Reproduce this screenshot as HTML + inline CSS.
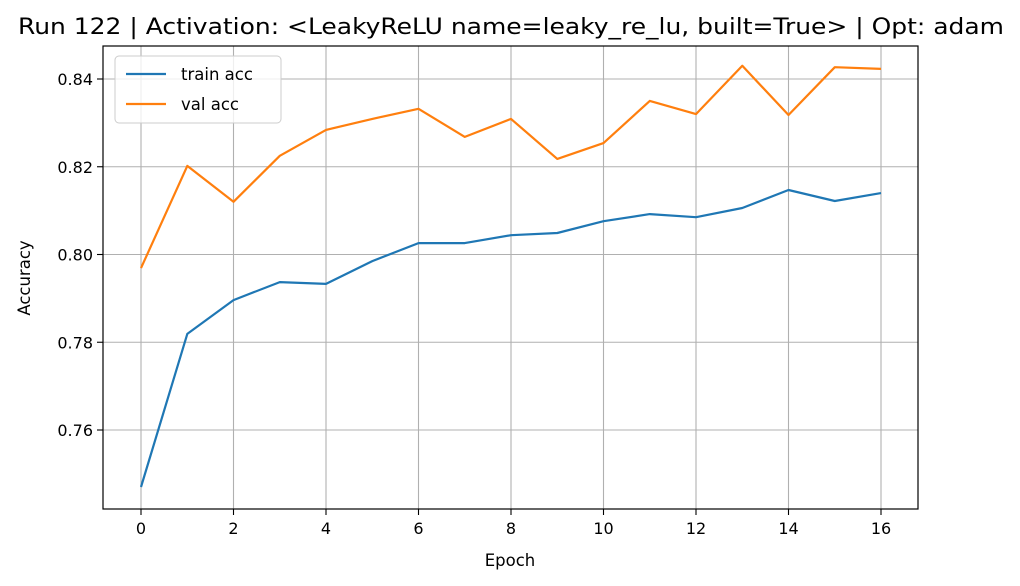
<!DOCTYPE html>
<html><head><meta charset="utf-8"><style>
html,body{margin:0;padding:0;background:#fff;}
svg{display:block;font-family:"DejaVu Sans","Liberation Sans",sans-serif;}
</style></head><body>
<svg id="chart" width="1020" height="586" viewBox="0 0 1020 586">
<text x="18" y="34" font-size="22" textLength="986" lengthAdjust="spacingAndGlyphs" fill="#000">Run 122 | Activation: &lt;LeakyReLU name=leaky_re_lu, built=True&gt; | Opt: adam</text>
<g id="grid"></g>
<g id="series"></g>
<rect x="103" y="46" width="815" height="463" fill="none" stroke="#000" stroke-width="1.2"/>
<g id="ticks"></g>
<text x="510" y="566" text-anchor="middle" font-size="16.5">Epoch</text>
<text transform="translate(30,278) rotate(-90)" text-anchor="middle" font-size="16.5">Accuracy</text>
<g>
<rect x="115" y="56" width="166" height="67" rx="4" fill="#fff" fill-opacity="0.8" stroke="#ccc"/>
<line x1="126" y1="74" x2="166" y2="74" stroke="#1f77b4" stroke-width="2.2"/>
<text x="181" y="80" font-size="16.5">train acc</text>
<line x1="126" y1="104" x2="166" y2="104" stroke="#ff7f0e" stroke-width="2.2"/>
<text x="181" y="110" font-size="16.5">val acc</text>
</g>
</svg>
<script>
const epochs = [0,1,2,3,4,5,6,7,8,9,10,11,12,13,14,15,16];
const trainAcc = [0.7470,0.7819,0.7896,0.7937,0.7933,0.7985,0.8026,0.8026,0.8044,0.8049,0.8076,0.8092,0.8085,0.8106,0.8147,0.8122,0.8140];
const valAcc = [0.7969,0.8202,0.8120,0.8225,0.8284,0.8309,0.8332,0.8268,0.8309,0.8218,0.8254,0.8350,0.8320,0.8430,0.8318,0.8427,0.8423];
const xTicks = [0,2,4,6,8,10,12,14,16];
const yTicks = [0.76,0.78,0.80,0.82,0.84];
const NS = "http://www.w3.org/2000/svg";
const L=103,R=918,T=46,B=509;
function xs(v){return 141 + v*(881-141)/16;}
function ys(v){return 79 + (0.84-v)*(430-79)/0.08;}
const grid=document.getElementById('grid'), ticks=document.getElementById('ticks'), series=document.getElementById('series');
function mk(tag,attrs,parent){const e=document.createElementNS(NS,tag);for(const k in attrs)e.setAttribute(k,attrs[k]);parent.appendChild(e);return e;}
xTicks.forEach(t=>{
  const x=xs(t);
  const g=mk('line',{x1:x,x2:x,y1:T,y2:B,stroke:'#b0b0b0','stroke-width':1.1},grid);
  
  
  const tk=mk('line',{x1:x,x2:x,y1:B,y2:B+6,stroke:'#000','stroke-width':1.1},ticks);
  
  
  const tx=mk('text',{x:x,y:B+25,'text-anchor':'middle','font-size':16},ticks);
  tx.textContent=t;
  
  
});
yTicks.forEach(t=>{
  const y=ys(t);
  const g=mk('line',{x1:L,x2:R,y1:y,y2:y,stroke:'#b0b0b0','stroke-width':1.1},grid);
  
  
  const tk=mk('line',{x1:L-6,x2:L,y1:y,y2:y,stroke:'#000','stroke-width':1.1},ticks);
  
  
  const tx=mk('text',{x:L-10,y:y+6,'text-anchor':'end','font-size':16},ticks);
  tx.textContent=t.toFixed(2);
  
  
});
function line(vals,color,name){
  const d=vals.map((v,i)=>(i?'L':'M')+xs(epochs[i]).toFixed(1)+','+ys(v).toFixed(1)).join(' ');
  const p=mk('path',{d:d,fill:'none',stroke:color,'stroke-width':2.2,'stroke-linejoin':'round'},series);
  
  
}
line(trainAcc,'#1f77b4','train-acc-line');
line(valAcc,'#ff7f0e','val-acc-line');
</script>
</body></html>
